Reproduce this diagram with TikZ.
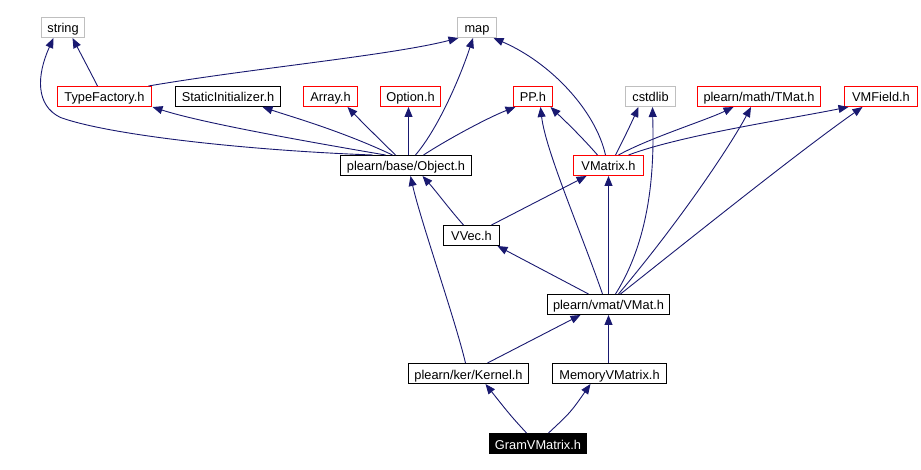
\documentclass[tikz,border=0pt]{standalone}
\usepackage{fontspec}
\setmainfont{Liberation Sans}
\usetikzlibrary{arrows.meta}
\definecolor{edgecol}{HTML}{191970}
\definecolor{redb}{HTML}{FF0000}
\definecolor{grayb}{HTML}{BFBFBF}
\tikzset{
  box/.style={draw, line width=1pt, inner sep=0pt, minimum height=20pt,
    text height=11pt, text depth=0pt,
    font=\fontsize{12.8}{14}\selectfont},
  blkbox/.style={box, draw=black},
  redbox/.style={box, draw=redb},
  graybox/.style={box, draw=grayb},
  blackbox/.style={box, draw=black, fill=black, text=white},
  edge/.style={draw=edgecol, line width=0.9pt, -{Triangle[length=10pt,width=8pt]}},
}
\begin{document}
\begin{tikzpicture}[x=1pt,y=-1pt]
\useasboundingbox (0,0) rectangle (921,470);
\begin{scope}[shift={(0.5,0.5)}]
% nodes
\node[graybox, minimum width=43] (string) at (62.5,27) {string};
\node[graybox, minimum width=39] (map) at (476.5,27) {map};
\node[redbox, minimum width=94] (tf) at (104,96) {TypeFactory.h};
\node[blkbox, minimum width=105] (si) at (227.5,96) {StaticInitializer.h};
\node[redbox, minimum width=54] (array) at (330,96) {Array.h};
\node[redbox, minimum width=60] (option) at (410,96) {Option.h};
\node[redbox, minimum width=39] (pp) at (532.5,96) {PP.h};
\node[graybox, minimum width=50] (cstdlib) at (650,96) {cstdlib};
\node[redbox, minimum width=123] (tmat) at (758.5,96) {plearn/math/TMat.h};
\node[redbox, minimum width=73] (vmfield) at (880.5,96) {VMField.h};
\node[blkbox, minimum width=131] (obj) at (405.5,165) {plearn/base/Object.h};
\node[redbox, minimum width=70] (vmatrix) at (608,165) {VMatrix.h};
\node[blkbox, minimum width=56] (vvec) at (471,235) {VVec.h};
\node[blkbox, minimum width=122] (vmat) at (608,304) {plearn/vmat/VMat.h};
\node[blkbox, minimum width=120] (kernel) at (468,373) {plearn/ker/Kernel.h};
\node[blkbox, minimum width=114] (mem) at (609,373) {MemoryVMatrix.h};
\node[blackbox, minimum width=97] (gram) at (537.5,443) {GramVMatrix.h};
% edges
\draw[edge] ([xshift=-7]tf.north) .. controls (88,68) .. ([xshift=9.5]string.south);
\draw[edge] ([xshift=-33.5]obj.north) .. controls (250,150) and (110,135) .. (60,117)
   .. controls (35,105) and (36,75) .. ([xshift=-9.5]string.south);
\draw[edge] ([xshift=44]tf.north) .. controls (250,68) and (390,55) .. ([xshift=-18.5]map.south);
\draw[edge] ([xshift=-20.5]obj.north) .. controls (300,140) and (200,122) .. ([xshift=48]tf.south);
\draw[edge] ([xshift=-13.5]obj.north) .. controls (340,130) and (290,116) .. ([xshift=34.5]si.south);
\draw[edge] ([xshift=-10.5]obj.north) .. controls (375,135) and (360,120) .. ([xshift=17]array.south);
\draw[edge] ([xshift=2.5]obj.north) -- ([xshift=-2]option.south);
\draw[edge] ([xshift=9.5]obj.north) .. controls (440,125) and (462,70) .. ([xshift=-4]map.south);
\draw[edge] ([xshift=17.5]obj.north) .. controls (450,137) and (490,116) .. ([xshift=-17.5]pp.south);
\draw[edge] ([xshift=-3]vmatrix.north) .. controls (595,110) and (550,62) .. ([xshift=16.5]map.south);
\draw[edge] ([xshift=-11]vmatrix.north) .. controls (580,135) and (562,118) .. ([xshift=17.5]pp.south);
\draw[edge] ([xshift=7]vmatrix.north) .. controls (625,135) and (632,120) .. ([xshift=-12]cstdlib.south);
\draw[edge] ([xshift=10]vmatrix.north) .. controls (650,137) and (705,120) .. ([xshift=-25.5]tmat.south);
\draw[edge] ([xshift=20]vmatrix.north) .. controls (680,135) and (780,120) .. ([xshift=-32.5]vmfield.south);
\draw[edge] ([xshift=-8]vvec.north) .. controls (450,210) and (435,190) .. ([xshift=16.5]obj.south);
\draw[edge] ([xshift=20]vvec.north) -- ([xshift=-22]vmatrix.south);
\draw[edge] ([xshift=-20]vmat.north) -- ([xshift=26]vvec.south);
\draw[edge] ([xshift=-6]vmat.north) .. controls (580,230) and (545,150) .. ([xshift=7.5]pp.south);
\draw[edge] (vmat.north) -- (vmatrix.south);
\draw[edge] ([xshift=7]vmat.north) .. controls (655,230) and (653,150) .. ([xshift=2]cstdlib.south);
\draw[edge] ([xshift=10]vmat.north) .. controls (680,220) and (730,145) .. ([xshift=-8]tmat.south);
\draw[edge] ([xshift=12]vmat.north) .. controls (700,230) and (800,150) .. ([xshift=-18.5]vmfield.south);
\draw[edge] ([xshift=-3]kernel.north) .. controls (455,320) and (420,220) .. ([xshift=4.5]obj.south);
\draw[edge] ([xshift=19]kernel.north) -- ([xshift=-28]vmat.south);
\draw[edge] ([xshift=-1]mem.north) -- (vmat.south);
\draw[edge] ([xshift=-11.5]gram.north) .. controls (510,415) .. ([xshift=17]kernel.south);
\draw[edge] ([xshift=10.5]gram.north) .. controls (570,412) .. ([xshift=-19]mem.south);
\end{scope}
\end{tikzpicture}
\end{document}
